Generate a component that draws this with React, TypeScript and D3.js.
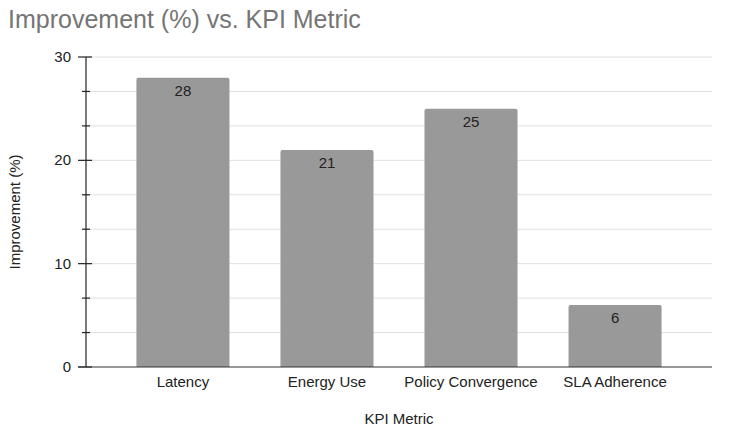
import React from "react";
import * as d3 from "d3";

const categories = ["Latency", "Energy Use", "Policy Convergence", "SLA Adherence"];
const values = [28, 21, 25, 6];
const majorTicks = [0, 10, 20, 30];
const minorTicks = [10 / 3, 20 / 3, 40 / 3, 50 / 3, 70 / 3, 80 / 3];

export default function App() {
  const W = 731, H = 428;
  const left = 86, right = 712, top = 57, bottom = 367;
  const x = d3.scaleBand<string>().domain(categories).range([left, right]).paddingInner(0.354).paddingOuter(0.35);
  const y = d3.scaleLinear().domain([0, 30]).range([bottom, top]);
  const font = "Arial, 'Liberation Sans', sans-serif";
  const grid = [...majorTicks, ...minorTicks].filter((t) => t !== 0);
  return (
    <svg width={W} height={H} style={{ position: "absolute", left: 0, top: 0, background: "#fff" }} fontFamily={font}>
      <text x={8} y={28} fontSize={25} fill="#757575">Improvement (%) vs. KPI Metric</text>
      {grid.map((t, i) => (
        <line key={"g" + i} x1={left} x2={right} y1={y(t)} y2={y(t)} stroke="#e0e0e0" strokeWidth={1} />
      ))}
      {categories.map((c, i) => {
        const bx = x(c)!, bw = x.bandwidth(), by = y(values[i]);
        const r = 2;
        const path = `M${bx},${bottom} L${bx},${by + r} Q${bx},${by} ${bx + r},${by} L${bx + bw - r},${by} Q${bx + bw},${by} ${bx + bw},${by + r} L${bx + bw},${bottom} Z`;
        return (
          <g key={c}>
            <path d={path} fill="#999999" />
            <text x={bx + bw / 2} y={by + 18} textAnchor="middle" fontSize={15} fill="#222">{values[i]}</text>
            <text x={bx + bw / 2} y={bottom + 20} textAnchor="middle" fontSize={15} fill="#222">{c}</text>
          </g>
        );
      })}
      <line x1={left} x2={left} y1={top} y2={bottom} stroke="#222" strokeWidth={1.2} />
      {majorTicks.map((t) => (
        <g key={"m" + t}>
          <line x1={78} x2={92} y1={y(t)} y2={y(t)} stroke="#222" strokeWidth={1.2} />
          <text x={71} y={y(t) + 5} textAnchor="end" fontSize={15} fill="#222">{t}</text>
        </g>
      ))}
      {minorTicks.map((t, i) => (
        <line key={"n" + i} x1={82} x2={90} y1={y(t)} y2={y(t)} stroke="#222" strokeWidth={1.2} />
      ))}
      <line x1={78} x2={right} y1={bottom} y2={bottom} stroke="#333" strokeWidth={1.2} />
      <text x={399} y={424} textAnchor="middle" fontSize={15} fill="#222">KPI Metric</text>
      <text transform={`translate(20,${(top + bottom) / 2}) rotate(-90)`} textAnchor="middle" fontSize={15} fill="#222">Improvement (%)</text>
    </svg>
  );
}
